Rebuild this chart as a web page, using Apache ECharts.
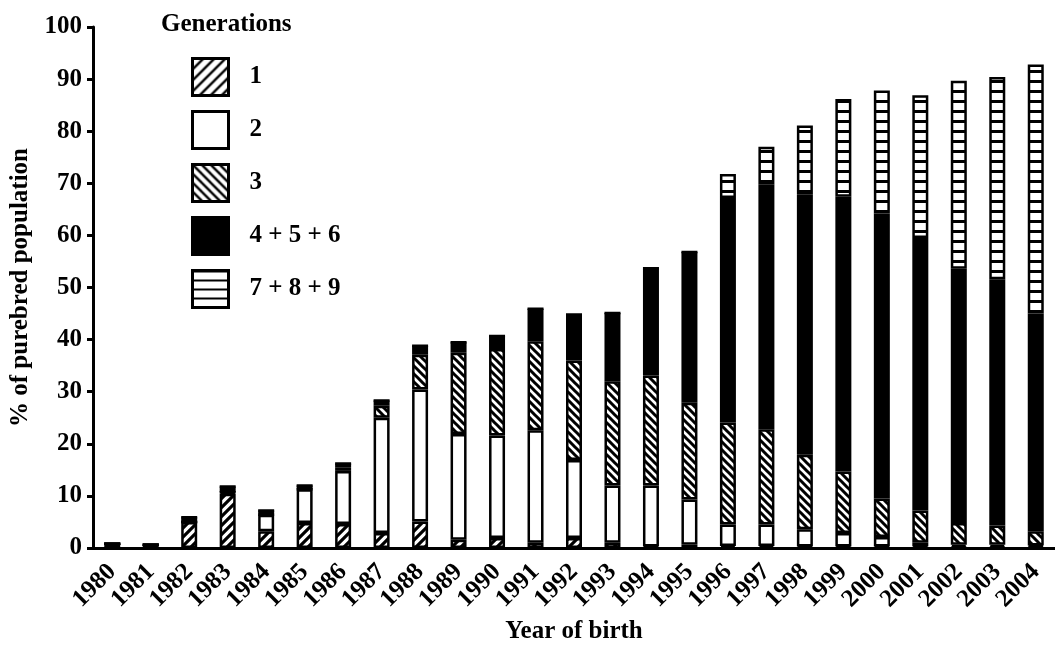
<!DOCTYPE html>
<html>
<head>
<meta charset="utf-8">
<script src="https://cdn.jsdelivr.net/npm/echarts@6/dist/echarts.min.js"></script>
<style>
  html, body { margin: 0; padding: 0; background: #fff; }
  #chart { width: 1055px; height: 653px; }
</style>
</head>
<body>
<div id="chart"></div>
<script>
// years on the x axis
const years = ['1980', '1981', '1982', '1983', '1984', '1985', '1986', '1987', '1988', '1989',
  '1990', '1991', '1992', '1993', '1994', '1995', '1996', '1997', '1998', '1999',
  '2000', '2001', '2002', '2003', '2004'];

// % of purebred population per generation class
const gen1 = [0.8, 0.6, 5.0, 10.4, 3.2, 4.8, 4.6, 2.9, 5.1, 1.6,
  1.9, 1.0, 1.9, 1.0, 0.3, 0.6, 0.4, 0.4, 0.3, 0.3,
  0.3, 0.3, 0.2, 0.2, 0.2];
const gen2 = [0, 0, 0, 0.3, 3.2, 6.5, 10.2, 22.1, 25.3, 20.3,
  19.7, 21.6, 15.0, 11.0, 11.7, 8.7, 4.1, 4.1, 3.3, 2.6,
  1.8, 0.7, 0.4, 0.4, 0.3];
const gen3 = [0, 0, 0, 0, 0, 0, 0.7, 2.3, 6.7, 15.6,
  16.6, 17.1, 19.1, 20.0, 21.1, 18.6, 19.6, 18.3, 14.3, 11.8,
  7.4, 6.2, 4.2, 3.7, 2.7];
const gen456 = [0, 0, 0.9, 1.1, 0.8, 0.7, 0.7, 1.0, 1.7, 2.0,
  2.5, 6.2, 8.8, 13.1, 20.6, 28.9, 43.1, 46.9, 49.9, 52.7,
  54.7, 52.3, 48.8, 47.3, 41.8];
const gen789 = [0, 0, 0, 0, 0, 0, 0, 0, 0, 0,
  0, 0, 0, 0, 0, 0, 4.6, 7.3, 13.3, 18.8,
  23.6, 27.4, 36.1, 38.8, 47.8];

const yTicks = [0, 100, 10]; // min, max, step

const font = 'Liberation Serif';

// small canvas tiles used as hatch fills (s = tile size, lw = line width)
function hatch(kind, s, lw) {
  const c = document.createElement('canvas');
  c.width = s; c.height = s;
  const ctx = c.getContext('2d');
  ctx.fillStyle = '#fff';
  ctx.fillRect(0, 0, s, s);
  ctx.fillStyle = '#000';
  ctx.strokeStyle = '#000';
  if (kind === 'h') {
    ctx.fillRect(0, 0, s, lw);
  } else {
    ctx.lineWidth = lw;
    ctx.beginPath();
    if (kind === '/') {
      ctx.moveTo(-1, s + 1); ctx.lineTo(s + 1, -1);
      ctx.moveTo(-3, 3); ctx.lineTo(3, -3);
      ctx.moveTo(s - 3, s + 3); ctx.lineTo(s + 3, s - 3);
    } else {
      ctx.moveTo(-1, -1); ctx.lineTo(s + 1, s + 1);
      ctx.moveTo(s - 3, -3); ctx.lineTo(s + 3, 3);
      ctx.moveTo(-3, s - 3); ctx.lineTo(3, s + 3);
    }
    ctx.stroke();
  }
  return { image: c, repeat: 'repeat' };
}

const fills = [hatch('/', 9, 3.2), '#fff', hatch('\\', 8, 3), '#000', hatch('h', 10, 3)];
// the legend boxes use a coarser, thinner hatch
const legendFills = [hatch('/', 11, 2.4), '#fff', hatch('\\', 9, 2.4), '#000', hatch('h', 9, 2)];
const names = ['1', '2', '3', '4 + 5 + 6', '7 + 8 + 9'];
const values = [gen1, gen2, gen3, gen456, gen789];

const chart = echarts.init(document.getElementById('chart'));

chart.setOption({
  animation: false,
  backgroundColor: '#fff',
  title: {
    text: 'Generations',
    left: 156,
    top: 7,
    textStyle: { fontFamily: font, fontWeight: 'bold', fontSize: 25, color: '#000' }
  },
  legend: {
    orient: 'vertical',
    left: 186,
    top: 52,
    icon: 'rect',
    itemWidth: 36,
    itemHeight: 37,
    itemGap: 13,
    itemStyle: { borderColor: '#000', borderWidth: 3 },
    textStyle: { fontFamily: font, fontWeight: 'bold', fontSize: 25, color: '#000', padding: [0, 0, 0, 16] },
    data: names.map((n, i) => ({ name: n, itemStyle: { color: legendFills[i] } }))
  },
  grid: { left: 90, right: -9, top: 27, bottom: 105 },
  xAxis: {
    type: 'category',
    data: years,
    name: 'Year of birth',
    nameLocation: 'middle',
    nameGap: 63,
    nameTextStyle: { fontFamily: font, fontWeight: 'bold', fontSize: 25, color: '#000' },
    axisLine: { lineStyle: { color: '#000', width: 3 } },
    axisTick: { length: 7, lineStyle: { color: '#000', width: 3 } },
    axisLabel: { interval: 0, rotate: 45, margin: 20, fontFamily: font, fontWeight: 'bold', fontSize: 25, color: '#000' }
  },
  yAxis: {
    type: 'value',
    min: yTicks[0],
    max: yTicks[1],
    interval: yTicks[2],
    name: '% of purebred population',
    nameLocation: 'middle',
    nameGap: 60,
    nameTextStyle: { fontFamily: font, fontWeight: 'bold', fontSize: 25, color: '#000' },
    splitLine: { show: false },
    axisLine: { show: true, lineStyle: { color: '#000', width: 3 } },
    axisTick: { show: true, length: 6, lineStyle: { color: '#000', width: 3 } },
    axisLabel: { margin: 11, fontFamily: font, fontWeight: 'bold', fontSize: 25, color: '#000' }
  },
  series: values.map((v, i) => ({
    name: names[i],
    type: 'bar',
    stack: 'gen',
    barWidth: 16,
    data: v,
    itemStyle: { color: fills[i], borderColor: '#000', borderWidth: 2.5 }
  }))
});
</script>
</body>
</html>
